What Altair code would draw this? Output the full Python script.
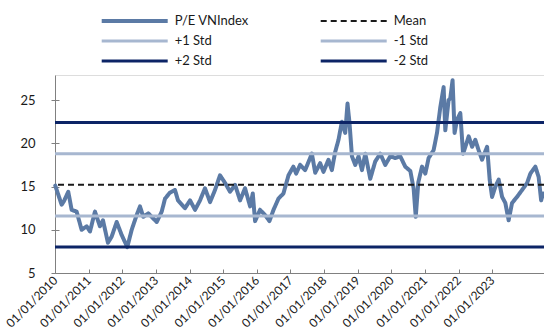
import altair as alt
import pandas as pd

# P/E of the VNIndex, sampled along the series
dates = [
    "2010-01-04", "2010-03-14", "2010-04-08", "2010-05-25", "2010-07-01", "2010-08-24",
    "2010-10-17", "2010-12-11", "2011-01-16", "2011-03-11", "2011-05-04", "2011-06-06",
    "2011-07-30", "2011-09-08", "2011-11-02", "2011-12-26", "2012-02-25", "2012-04-13",
    "2012-06-06", "2012-07-12", "2012-08-17", "2012-10-10", "2012-12-04", "2013-01-10",
    "2013-03-05", "2013-04-10", "2013-06-03", "2013-07-27", "2013-08-29", "2013-11-13",
    "2014-01-07", "2014-03-02", "2014-04-25", "2014-06-18", "2014-08-12", "2014-10-05",
    "2014-11-28", "2015-01-23", "2015-03-17", "2015-05-11", "2015-07-04", "2015-08-27",
    "2015-10-21", "2015-11-19", "2015-12-14", "2016-02-06", "2016-04-01", "2016-05-18",
    "2016-07-01", "2016-08-24", "2016-10-17", "2016-12-11", "2017-02-02", "2017-03-04",
    "2017-04-16", "2017-06-10", "2017-08-22", "2017-09-27", "2017-11-20", "2017-12-26",
    "2018-02-18", "2018-03-27", "2018-05-02", "2018-06-07", "2018-07-14", "2018-08-19",
    "2018-09-13", "2018-10-05", "2018-10-31", "2018-12-06", "2019-01-11", "2019-02-17",
    "2019-03-25", "2019-05-18", "2019-07-11", "2019-09-04", "2019-10-28", "2019-12-21",
    "2020-02-14", "2020-04-08", "2020-06-01", "2020-07-26", "2020-08-31", "2020-09-23",
    "2020-10-21", "2020-11-30", "2021-01-05", "2021-02-10", "2021-04-05", "2021-05-12",
    "2021-06-17", "2021-07-23", "2021-08-10", "2021-09-15", "2021-10-03", "2021-10-28",
    "2021-11-19", "2021-12-15", "2022-01-20", "2022-02-19", "2022-03-16", "2022-04-21",
    "2022-05-28", "2022-07-02", "2022-08-07", "2022-09-13", "2022-11-07", "2022-12-05",
    "2022-12-31", "2023-02-05", "2023-03-13", "2023-04-19", "2023-05-24", "2023-06-29",
    "2023-08-05", "2023-09-28", "2023-11-22", "2024-01-15", "2024-02-20", "2024-04-14",
    "2024-05-20", "2024-06-16", "2024-07-07",
]
pe = [
    15.1, 12.9, 13.3, 14.4, 12.3, 12.1,
    10.0, 10.4, 9.8, 12.1, 10.4, 11.1,
    8.5, 9.2, 10.9, 9.4, 8.0, 10.0,
    11.7, 12.7, 11.5, 11.9, 11.3, 10.9,
    12.1, 13.6, 14.3, 14.6, 13.4, 12.5,
    13.4, 12.3, 13.4, 14.8, 13.2, 14.6,
    16.3, 15.4, 14.4, 15.2, 13.4, 14.8,
    12.7, 14.2, 11.0, 12.3, 11.7, 11.0,
    12.3, 13.6, 14.2, 16.3, 17.3, 16.5,
    17.5, 16.9, 18.8, 16.6, 17.7, 16.7,
    18.1, 16.9, 19.0, 20.4, 22.5, 21.2,
    24.6, 22.3, 18.5, 17.5, 18.5, 16.9,
    18.8, 15.9, 17.9, 18.8, 17.5, 18.5,
    18.3, 18.5, 17.3, 16.8, 14.8, 11.5,
    15.5, 17.3, 16.5, 18.3, 19.2, 21.2,
    24.2, 26.5, 21.5, 25.0, 25.2, 27.3,
    21.2, 22.7, 23.5, 18.8, 19.6, 20.8,
    19.6, 20.4, 19.2, 18.1, 19.6, 15.8,
    13.8, 15.0, 15.8, 13.8, 13.1, 11.1,
    13.1, 13.8, 14.6, 15.4, 16.5, 17.3,
    16.1, 13.4, 14.2,
]

# Mean and standard-deviation bands
level_names = ["Mean", "+1 Std", "-1 Std", "+2 Std", "-2 Std"]
level_values = [15.2, 18.8, 11.6, 22.4, 8.0]

series_order = ["P/E VNIndex", "Mean", "+1 Std", "-1 Std", "+2 Std", "-2 Std"]
series_colors = ["#5b7aa5", "#1a1a1a", "#a7b7d0", "#a7b7d0", "#0c2466", "#0c2466"]
series_dash = [[1, 0], [6, 4], [1, 0], [1, 0], [1, 0], [1, 0]]
series_width = [4, 2, 3, 3, 3, 3]

tick_years = list(range(2010, 2024))

FONT = "Lato"
TEXT = "#1a1a1a"
AXIS = "#808080"
W, H = 489, 198

pe_df = pd.DataFrame({"date": dates, "pe": pe, "series": "P/E VNIndex"})
lvl_df = pd.DataFrame({"series": level_names, "value": level_values})
# legend entries laid out two per row, in series order
leg_df = pd.DataFrame({
    "series": series_order,
    "col": [i % 2 for i in range(len(series_order))],
    "row": [i // 2 for i in range(len(series_order))],
})

x_scale = alt.Scale(type="utc", domain=["2010-01-01", "2024-07-17"])
y_scale = alt.Scale(domain=[5, 27.9], nice=False, zero=False)
tick_vals = [alt.DateTime(year=y, month=1, date=1, utc=True) for y in tick_years]

color = alt.Color("series:N", scale=alt.Scale(domain=series_order, range=series_colors), legend=None)
dash = alt.StrokeDash("series:N", scale=alt.Scale(domain=series_order, range=series_dash), legend=None)
width = alt.StrokeWidth("series:N", scale=alt.Scale(type="ordinal", domain=series_order, range=series_width),
                        legend=None)

line = alt.Chart(pe_df).mark_line(strokeJoin="round", strokeCap="round").encode(
    x=alt.X("date:T", scale=x_scale, axis=alt.Axis(
        values=tick_vals, format="%d/%m/%Y", title=None, grid=False, ticks=False,
        labelAngle=-45, labelAlign="right", labelBaseline="middle", labelPadding=5,
        labelFont=FONT, labelFontSize=12, labelColor=TEXT, domainColor=AXIS,
        labelOverlap=False)),
    y=alt.Y("pe:Q", scale=y_scale, axis=alt.Axis(
        values=[5, 10, 15, 20, 25], title=None, grid=False, tickSize=4,
        labelPadding=16, labelFont=FONT, labelFontSize=13, labelColor=TEXT,
        domainColor=AXIS, tickColor=AXIS)),
    color=color, strokeDash=dash, strokeWidth=width,
)

bands = alt.Chart(lvl_df).mark_rule().encode(
    y=alt.Y("value:Q", scale=y_scale, axis=None),
    color=color, strokeDash=dash, strokeWidth=width,
)

# invisible copy of the series carrying the inward-pointing tick marks
inner_ticks = alt.Chart(pe_df).mark_line(strokeOpacity=0).encode(
    x=alt.X("date:T", scale=x_scale, axis=alt.Axis(
        orient="top", offset=-H, values=tick_vals, labels=False, domain=False,
        grid=False, title=None, tickSize=4, tickColor=AXIS)),
    y=alt.Y("pe:Q", scale=y_scale, axis=alt.Axis(
        orient="right", offset=-W, values=[5, 10, 15, 20, 25], labels=False,
        domain=False, grid=False, title=None, tickSize=4, tickColor=AXIS)),
)

plot = alt.layer(line, bands, inner_ticks).resolve_axis(x="independent", y="independent")

# legend above the plot: line swatch followed by its label
leg_x = alt.Scale(domain=[0, 1], range=[46.7, 265.7], nice=False, zero=False)
leg_y = alt.Scale(domain=[0, 2], range=[-54, -14], nice=False, zero=False)

leg_swatch = alt.Chart(leg_df).mark_rule(x2Offset=66).encode(
    x=alt.X("col:Q", scale=leg_x, axis=None),
    x2=alt.X2("col:Q"),
    y=alt.Y("row:Q", scale=leg_y, axis=None),
    color=color, strokeDash=dash, strokeWidth=width,
)
leg_label = alt.Chart(leg_df).mark_text(
    align="left", baseline="middle", dx=73, font=FONT, fontSize=13, color=TEXT
).encode(
    x=alt.X("col:Q", scale=leg_x, axis=None),
    y=alt.Y("row:Q", scale=leg_y, axis=None),
    text="series:N",
)
legend_block = alt.layer(leg_swatch, leg_label)

chart = alt.layer(plot, legend_block).resolve_scale(
    x="independent", y="independent"
).properties(
    width=W, height=H,
    autosize=alt.AutoSizeParams(type="none"),
    padding={"left": 55, "top": 75, "right": 0, "bottom": 62},
).configure_view(stroke=None).configure(background="white")

chart.save("out.html", embed_options={"renderer": "svg", "actions": False})
